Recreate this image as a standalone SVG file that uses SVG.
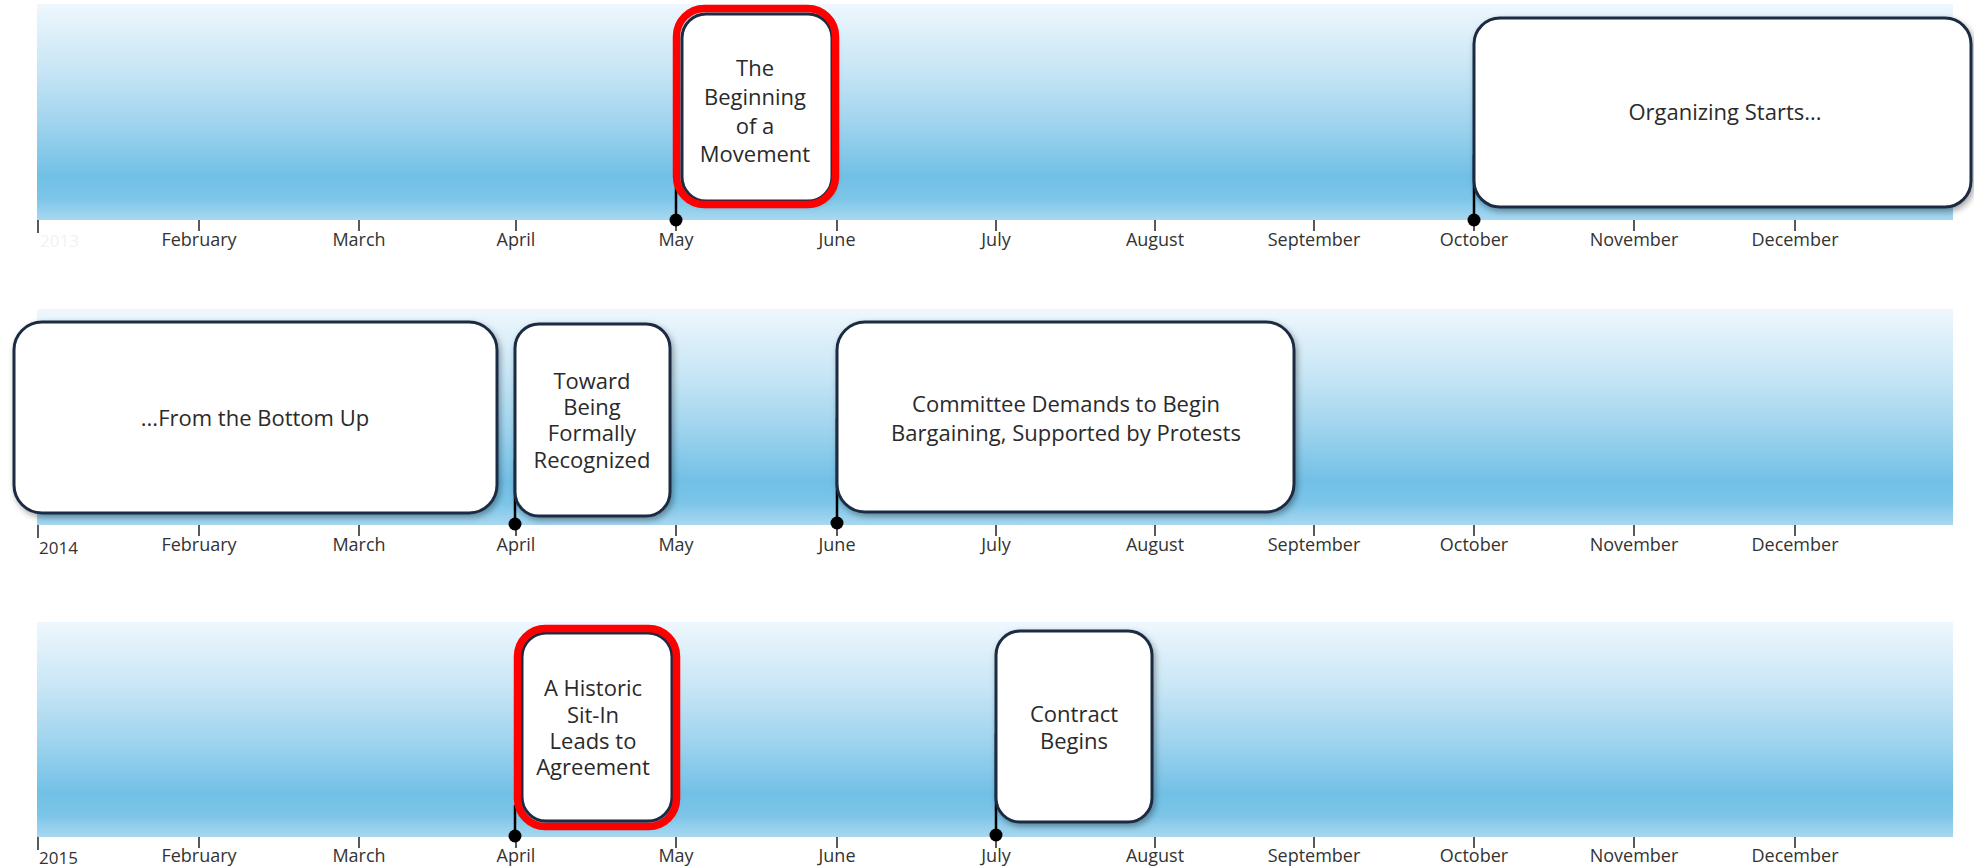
<svg xmlns="http://www.w3.org/2000/svg" width="1974" height="867" viewBox="0 0 1974 867">
  <defs>
    <linearGradient id="band" x1="0" y1="0" x2="0" y2="1">
      <stop offset="0" stop-color="#eef7fd"/>
      <stop offset="0.3" stop-color="#c8e6f6"/>
      <stop offset="0.55" stop-color="#a0d4ee"/>
      <stop offset="0.8" stop-color="#71c0e6"/>
      <stop offset="0.9" stop-color="#7cc5e8"/>
      <stop offset="1" stop-color="#a8d8f0"/>
    </linearGradient>
    <filter id="shadow" x="-10%" y="-10%" width="120%" height="120%">
      <feDropShadow dx="2" dy="3" stdDeviation="3" flood-color="#000" flood-opacity="0.35"/>
    </filter>
    <style>
      .band { fill: url(#band); }
      .tick { stroke: #222; stroke-width: 1.5; }
      .month { font-family: "Open Sans", "Liberation Sans", sans-serif; font-size: 18px; fill: #333; text-anchor: middle; }
      .year { font-family: "Open Sans", "Liberation Sans", sans-serif; font-size: 17px; fill: #333; }
      .box { fill: #ffffff; stroke: #1b2b42; stroke-width: 3; filter: url(#shadow); }
      .hl { fill: none; stroke: #ff0000; stroke-width: 7.5; }
      .label { font-family: "Open Sans", "Liberation Sans", sans-serif; font-size: 22px; fill: #2a2a2a; text-anchor: middle; }
      .conn { stroke: #000; stroke-width: 2.5; }
      .dot { fill: #000; }
    </style>
  </defs>

  <g id="timeline-2013">
    <rect class="band" x="37" y="4" width="1916" height="216"/>
    <g>
      <line class="tick" x1="38" y1="220" x2="38" y2="233"/>
      <line class="tick" x1="199" y1="220" x2="199" y2="231"/>
      <line class="tick" x1="359" y1="220" x2="359" y2="231"/>
      <line class="tick" x1="516" y1="220" x2="516" y2="231"/>
      <line class="tick" x1="676" y1="220" x2="676" y2="231"/>
      <line class="tick" x1="837" y1="220" x2="837" y2="231"/>
      <line class="tick" x1="996" y1="220" x2="996" y2="231"/>
      <line class="tick" x1="1155" y1="220" x2="1155" y2="231"/>
      <line class="tick" x1="1314" y1="220" x2="1314" y2="231"/>
      <line class="tick" x1="1474" y1="220" x2="1474" y2="231"/>
      <line class="tick" x1="1634" y1="220" x2="1634" y2="231"/>
      <line class="tick" x1="1795" y1="220" x2="1795" y2="231"/>
    </g>
    <text class="year" x="40" y="247" style="fill:#f2f2f2">2013</text>
    <text class="month" x="199" y="246">February</text>
    <text class="month" x="359" y="246">March</text>
    <text class="month" x="516" y="246">April</text>
    <text class="month" x="676" y="246">May</text>
    <text class="month" x="837" y="246">June</text>
    <text class="month" x="996" y="246">July</text>
    <text class="month" x="1155" y="246">August</text>
    <text class="month" x="1314" y="246">September</text>
    <text class="month" x="1474" y="246">October</text>
    <text class="month" x="1634" y="246">November</text>
    <text class="month" x="1795" y="246">December</text>
  </g>

  <g id="timeline-2014">
    <rect class="band" x="37" y="309" width="1916" height="216"/>
    <g>
      <line class="tick" x1="38" y1="525" x2="38" y2="538"/>
      <line class="tick" x1="199" y1="525" x2="199" y2="536"/>
      <line class="tick" x1="359" y1="525" x2="359" y2="536"/>
      <line class="tick" x1="516" y1="525" x2="516" y2="536"/>
      <line class="tick" x1="676" y1="525" x2="676" y2="536"/>
      <line class="tick" x1="837" y1="525" x2="837" y2="536"/>
      <line class="tick" x1="996" y1="525" x2="996" y2="536"/>
      <line class="tick" x1="1155" y1="525" x2="1155" y2="536"/>
      <line class="tick" x1="1314" y1="525" x2="1314" y2="536"/>
      <line class="tick" x1="1474" y1="525" x2="1474" y2="536"/>
      <line class="tick" x1="1634" y1="525" x2="1634" y2="536"/>
      <line class="tick" x1="1795" y1="525" x2="1795" y2="536"/>
    </g>
    <text class="year" x="39" y="554">2014</text>
    <text class="month" x="199" y="551">February</text>
    <text class="month" x="359" y="551">March</text>
    <text class="month" x="516" y="551">April</text>
    <text class="month" x="676" y="551">May</text>
    <text class="month" x="837" y="551">June</text>
    <text class="month" x="996" y="551">July</text>
    <text class="month" x="1155" y="551">August</text>
    <text class="month" x="1314" y="551">September</text>
    <text class="month" x="1474" y="551">October</text>
    <text class="month" x="1634" y="551">November</text>
    <text class="month" x="1795" y="551">December</text>
  </g>

  <g id="timeline-2015">
    <rect class="band" x="37" y="622" width="1916" height="215"/>
    <g>
      <line class="tick" x1="38" y1="837" x2="38" y2="850"/>
      <line class="tick" x1="199" y1="837" x2="199" y2="848"/>
      <line class="tick" x1="359" y1="837" x2="359" y2="848"/>
      <line class="tick" x1="516" y1="837" x2="516" y2="848"/>
      <line class="tick" x1="676" y1="837" x2="676" y2="848"/>
      <line class="tick" x1="837" y1="837" x2="837" y2="848"/>
      <line class="tick" x1="996" y1="837" x2="996" y2="848"/>
      <line class="tick" x1="1155" y1="837" x2="1155" y2="848"/>
      <line class="tick" x1="1314" y1="837" x2="1314" y2="848"/>
      <line class="tick" x1="1474" y1="837" x2="1474" y2="848"/>
      <line class="tick" x1="1634" y1="837" x2="1634" y2="848"/>
      <line class="tick" x1="1795" y1="837" x2="1795" y2="848"/>
    </g>
    <text class="year" x="39" y="864">2015</text>
    <text class="month" x="199" y="862">February</text>
    <text class="month" x="359" y="862">March</text>
    <text class="month" x="516" y="862">April</text>
    <text class="month" x="676" y="862">May</text>
    <text class="month" x="837" y="862">June</text>
    <text class="month" x="996" y="862">July</text>
    <text class="month" x="1155" y="862">August</text>
    <text class="month" x="1314" y="862">September</text>
    <text class="month" x="1474" y="862">October</text>
    <text class="month" x="1634" y="862">November</text>
    <text class="month" x="1795" y="862">December</text>
  </g>

  <g id="connectors">
    <line class="conn" x1="676" y1="185" x2="676" y2="220"/>
    <circle class="dot" cx="676" cy="220" r="6.5"/>
    <line class="conn" x1="1474" y1="155" x2="1474" y2="220"/>
    <circle class="dot" cx="1474" cy="220" r="6.5"/>
    <line class="conn" x1="515" y1="460" x2="515" y2="524"/>
    <circle class="dot" cx="515" cy="524" r="6.5"/>
    <line class="conn" x1="837" y1="418" x2="837" y2="523"/>
    <circle class="dot" cx="837" cy="523" r="6.5"/>
    <line class="conn" x1="515" y1="805" x2="515" y2="836"/>
    <circle class="dot" cx="515" cy="836" r="6.5"/>
    <line class="conn" x1="996" y1="733" x2="996" y2="835"/>
    <circle class="dot" cx="996" cy="835" r="6.5"/>
  </g>

  <g id="node-beginning">
    <rect class="box" x="682" y="14" width="150" height="187" rx="24"/>
    <rect class="hl" x="676.5" y="8.5" width="159" height="196" rx="28"/>
    <text class="label" x="755" y="76">The</text>
    <text class="label" x="755" y="105">Beginning</text>
    <text class="label" x="755" y="134">of a</text>
    <text class="label" x="755" y="162">Movement</text>
  </g>

  <g id="node-organizing">
    <rect class="box" x="1474" y="18" width="497" height="189" rx="26"/>
    <text class="label" x="1725" y="120">Organizing Starts...</text>
  </g>

  <g id="node-bottom-up">
    <rect class="box" x="14" y="322" width="483" height="191" rx="28"/>
    <text class="label" x="255" y="426">...From the Bottom Up</text>
  </g>

  <g id="node-recognized">
    <rect class="box" x="515" y="324" width="155" height="192" rx="24"/>
    <text class="label" x="592" y="389">Toward</text>
    <text class="label" x="592" y="415">Being</text>
    <text class="label" x="592" y="441">Formally</text>
    <text class="label" x="592" y="468">Recognized</text>
  </g>

  <g id="node-committee">
    <rect class="box" x="837" y="322" width="457" height="190" rx="28"/>
    <text class="label" x="1066" y="412">Committee Demands to Begin</text>
    <text class="label" x="1066" y="441">Bargaining, Supported by Protests</text>
  </g>

  <g id="node-sitin">
    <rect class="box" x="522" y="633" width="150" height="188" rx="24"/>
    <rect class="hl" x="517.5" y="628.5" width="159" height="198" rx="28"/>
    <text class="label" x="593" y="696">A Historic</text>
    <text class="label" x="593" y="723">Sit-In</text>
    <text class="label" x="593" y="749">Leads to</text>
    <text class="label" x="593" y="775">Agreement</text>
  </g>

  <g id="node-contract">
    <rect class="box" x="996" y="631" width="156" height="191" rx="24"/>
    <text class="label" x="1074" y="722">Contract</text>
    <text class="label" x="1074" y="749">Begins</text>
  </g>
</svg>
